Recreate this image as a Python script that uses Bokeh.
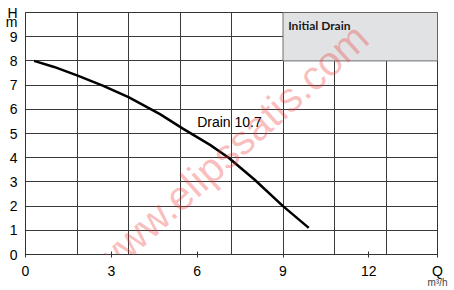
import math
from bokeh.plotting import figure
from bokeh.models import Range1d, FixedTicker, Label
from bokeh.embed import file_html
from bokeh.resources import INLINE

# Data
flow_q = [0.3, 1.0, 1.8, 2.7, 3.6, 4.7, 5.5, 6.45, 7.1, 8.0, 9.0, 9.9]
head_h = [8.0, 7.75, 7.4, 6.98, 6.5, 5.8, 5.2, 4.53, 4.0, 3.1, 2.0, 1.1]
x_ticks = [0, 3, 6, 9, 12]
y_ticks = [0, 1, 2, 3, 4, 5, 6, 7, 8, 9]
x_grid = [1.8, 3.6, 5.4, 7.2, 9.0, 10.8, 12.6]
y_grid = [1, 2, 3, 4, 5, 6, 7, 8, 9]
x_title = "Q"
x_unit = "m³/h"
y_title = "H"
y_unit = "m"
curve_name = "Drain 10.7"
box_title = "Initial Drain"
box_q = [9.0, 14.4]
box_h = [8.0, 10.0]
watermark = "www.elipssatis.com"

X_MAX, Y_MAX = 14.4, 10
p = figure(width=454, height=290, output_backend="svg", toolbar_location=None,
           x_range=Range1d(0, X_MAX), y_range=Range1d(0, Y_MAX),
           min_border_left=25, min_border_right=17, min_border_top=12,
           min_border_bottom=35)
p.background_fill_color = "white"
p.border_fill_color = "white"
p.outline_line_color = "#333333"
p.outline_line_width = 1

grid_col = "#3a3a3a"
p.xgrid.ticker = FixedTicker(ticks=x_grid)
p.ygrid.ticker = FixedTicker(ticks=y_grid)
for g in (p.xgrid, p.ygrid):
    g.grid_line_color = grid_col
    g.grid_line_width = 1

font = "Liberation Sans"
xa = p.xaxis[0]
xa.ticker = FixedTicker(ticks=x_ticks + [X_MAX])
xa.major_label_overrides = {X_MAX: x_title}
xa.major_label_text_font = font
xa.major_label_text_font_size = "14px"
xa.major_label_text_color = "black"
xa.major_label_standoff = 5
xa.major_tick_in = 3
xa.major_tick_out = 3
xa.major_tick_line_color = "#333333"
xa.minor_tick_line_color = None
xa.minor_tick_in = 0
xa.minor_tick_out = 0
xa.axis_line_color = "#333333"
xa.axis_label = x_unit
xa.axis_label_text_font = font
xa.axis_label_text_font_style = "normal"
xa.axis_label_text_font_size = "10px"
xa.axis_label_standoff = -5
if "axis_label_align" in xa.properties():
    xa.axis_label_align = "end"

ya = p.yaxis[0]
y_unit_pos = 9.6
ya.ticker = FixedTicker(ticks=y_ticks + [y_unit_pos, Y_MAX])
ya.major_label_overrides = {y_unit_pos: y_unit, Y_MAX: y_title}
ya.major_label_text_font = font
ya.major_label_text_font_size = "14px"
ya.major_label_text_color = "black"
ya.major_label_standoff = 8
ya.major_tick_line_color = None
ya.major_tick_in = 0
ya.major_tick_out = 0
ya.minor_tick_line_color = None
ya.minor_tick_in = 0
ya.minor_tick_out = 0
ya.axis_line_color = "#333333"

# Info box
p.quad(left=[box_q[0]], right=[box_q[1]], bottom=[box_h[0]], top=[box_h[1]],
       fill_color="#e1e2e4", line_color="#6e6e6e", line_width=1)
p.add_layout(Label(x=box_q[0] + 0.18, y=box_h[1] - 0.22, text=box_title,
                   text_font="Lato", text_font_style="bold",
                   text_font_size="12px", text_color="#1a1a1a",
                   text_baseline="top", text_align="left"))

# Curve
p.line(flow_q, head_h, line_color="black", line_width=2.5)
p.add_layout(Label(x=6.0, y=5.47, text=curve_name, text_font=font,
                   text_font_size="14px", text_color="black",
                   text_baseline="middle", text_align="left"))

# Watermark
p.add_layout(Label(x=7.15, y=4.3, text=watermark, text_font=font,
                   text_font_size="41px", text_color="#ee3333", text_alpha=0.33,
                   angle=math.radians(42), text_align="center",
                   text_baseline="middle"))

open("out.html", "w").write(file_html(p, INLINE))
